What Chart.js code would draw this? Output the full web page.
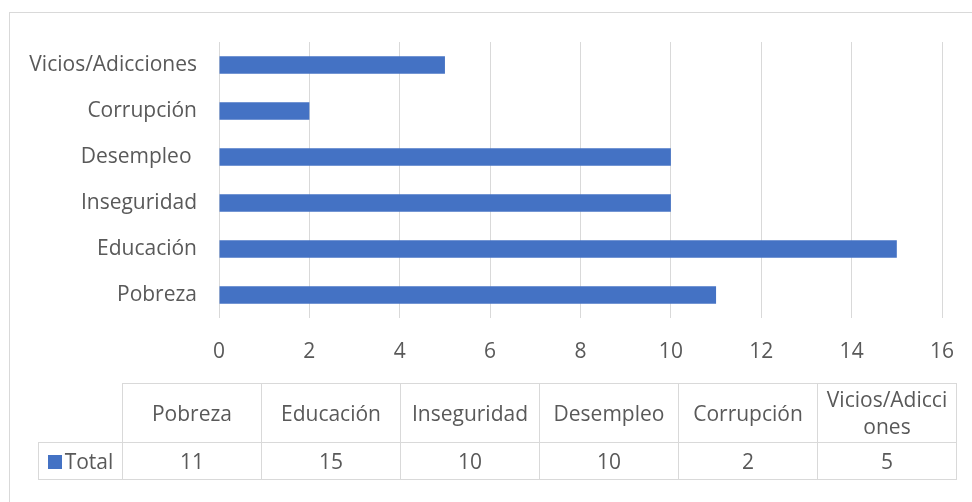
<!DOCTYPE html>
<html>
<head>
<meta charset="utf-8">
<script src="https://cdn.jsdelivr.net/npm/chart.js@4.4.0/dist/chart.umd.min.js"></script>
<style>
  html, body { margin: 0; padding: 0; background: #fff; overflow: hidden; }
  #wrap { position: relative; width: 972px; height: 502px; overflow: hidden; }
  #frame { position: absolute; left: 9px; top: 12px; width: 1000px; height: 600px; border: 1px solid #d9d9d9; box-sizing: border-box; }
  #chart { position: absolute; left: 0; top: 0; }
  #dataTable { position: absolute; left: 38px; top: 383px; border-collapse: collapse; table-layout: fixed;
               font-family: 'Open Sans', sans-serif; font-size: 21px; color: #595959; }
  #dataTable td { border: 1px solid #d9d9d9; text-align: center; padding: 0 4px; word-break: break-all; line-height: 27px; }
  #dataTable td.blank { border-top: none; border-left: none; }
  .key { display: inline-block; width: 14px; height: 14px; background: #4472c4; margin-right: 3px; vertical-align: 0px; }
</style>
</head>
<body>
<div id="wrap">
  <div id="frame"></div>
  <canvas id="chart" width="972" height="502"></canvas>
  <table id="dataTable"></table>
</div>
<script>
// chart data
const categories = ['Pobreza', 'Educación', 'Inseguridad', 'Desempleo ', 'Corrupción', 'Vicios/Adicciones'];
const totals = [11, 15, 10, 10, 2, 5];
const seriesName = 'Total';
const xMin = 0;
const xMax = 16;
const xStep = 2;

const barColor = '#4472c4';
const textColor = '#595959';
const gridColor = '#d9d9d9';

Chart.defaults.font.family = "'Open Sans', sans-serif";
Chart.defaults.font.size = 21;
Chart.defaults.color = textColor;

new Chart(document.getElementById('chart'), {
    type: 'bar',
    data: {
        labels: categories,
        datasets: [{
            label: seriesName,
            data: totals,
            backgroundColor: barColor,
            categoryPercentage: 1,
            barPercentage: 0.38
        }]
    },
    options: {
        indexAxis: 'y',
        responsive: false,
        animation: false,
        layout: { padding: { top: 42, right: 30, bottom: 134, left: 0 } },
        plugins: {
            legend: { display: false },
            tooltip: { enabled: false }
        },
        scales: {
            x: {
                min: xMin,
                max: xMax,
                ticks: { stepSize: xStep, padding: 21 },
                grid: { color: gridColor, drawTicks: false },
                border: { display: false },
                afterFit: function(scale) {
                    scale.height = 50;
                    scale.paddingLeft = 0;
                    scale.paddingRight = 0;
                }
            },
            y: {
                reverse: true,
                ticks: { padding: 22 },
                grid: { display: false, drawTicks: false },
                border: { display: false },
                afterFit: function(scale) { scale.width = 219; }
            }
        }
    }
});

// data table under the chart
const table = document.getElementById('dataTable');
const colgroup = document.createElement('colgroup');
const firstCol = document.createElement('col');
firstCol.style.width = '84px';
colgroup.appendChild(firstCol);
categories.forEach(function() {
    const c = document.createElement('col');
    c.style.width = '139px';
    colgroup.appendChild(c);
});
table.appendChild(colgroup);

const head = document.createElement('tr');
head.style.height = '59px';
const blank = document.createElement('td');
blank.className = 'blank';
head.appendChild(blank);
categories.forEach(function(cat) {
    const td = document.createElement('td');
    td.textContent = cat.trim();
    head.appendChild(td);
});
table.appendChild(head);

const row = document.createElement('tr');
row.style.height = '37px';
const nameCell = document.createElement('td');
nameCell.style.padding = '0';
const key = document.createElement('span');
key.className = 'key';
nameCell.appendChild(key);
nameCell.appendChild(document.createTextNode(seriesName));
row.appendChild(nameCell);
totals.forEach(function(v) {
    const td = document.createElement('td');
    td.textContent = v;
    row.appendChild(td);
});
table.appendChild(row);
</script>
</body>
</html>
